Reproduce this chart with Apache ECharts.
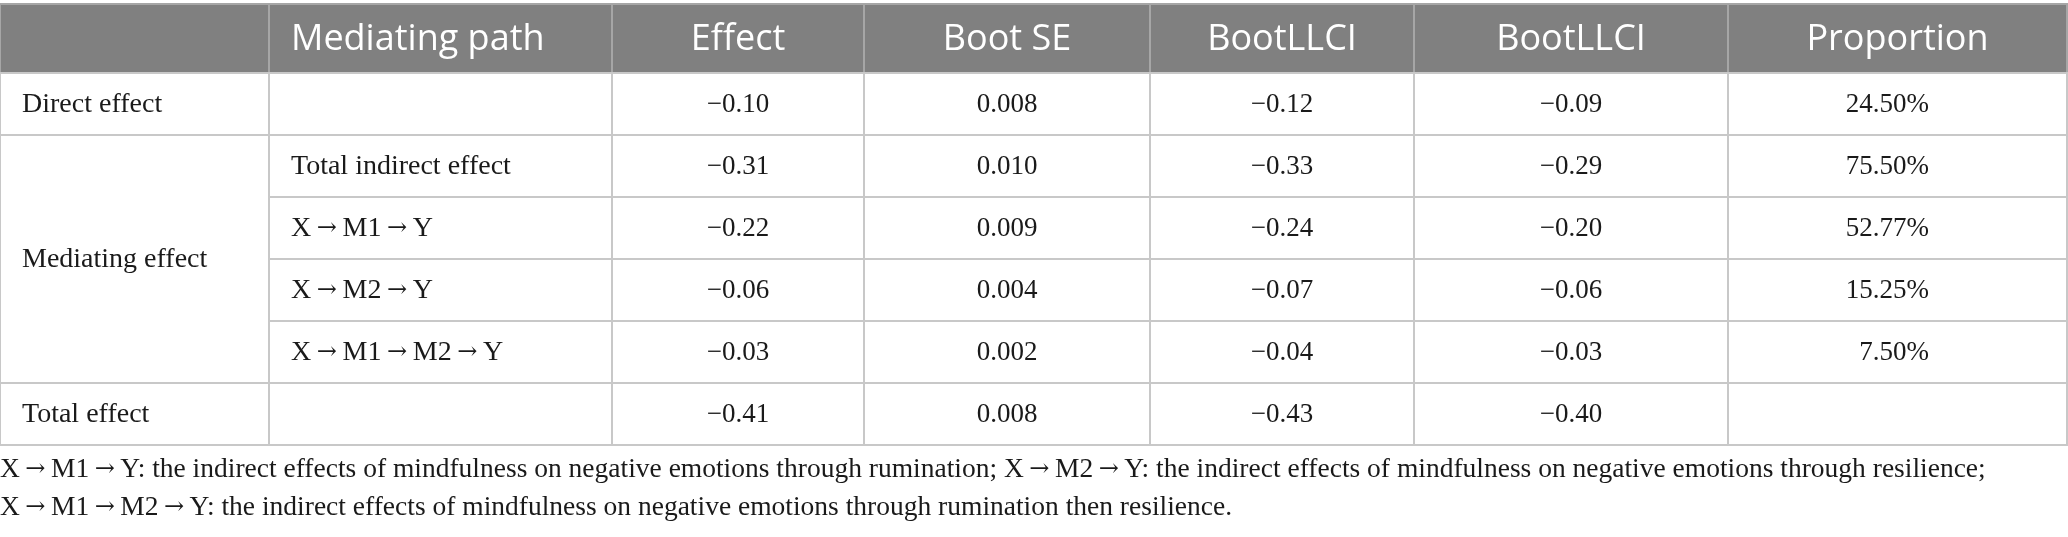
<!DOCTYPE html>
<html>
<head>
<meta charset="utf-8">
<title>Mediating effects</title>
<script src="https://cdn.jsdelivr.net/npm/echarts@6/dist/echarts.min.js"></script>
<style>
  html, body { margin: 0; padding: 0; background: #fff; }
  #main { width: 2068px; height: 537px; }
</style>
</head>
<body>
<div id="main"></div>
<script>
// table data
var headers = ['', 'Mediating path', 'Effect', 'Boot SE', 'BootLLCI', 'BootLLCI', 'Proportion'];
var groups = ['Direct effect', 'Mediating effect', 'Total effect'];
var groupSpan = [1, 4, 1];
var paths = ['', 'Total indirect effect', 'X → M1 → Y', 'X → M2 → Y', 'X → M1 → M2 → Y', ''];
var effect = [-0.10, -0.31, -0.22, -0.06, -0.03, -0.41];
var bootSE = [0.008, 0.010, 0.009, 0.004, 0.002, 0.008];
var bootLL = [-0.12, -0.33, -0.24, -0.07, -0.04, -0.43];
var bootUL = [-0.09, -0.29, -0.20, -0.06, -0.03, -0.40];
var proportion = [24.50, 75.50, 52.77, 15.25, 7.50, null];
var notes = [
  'X → M1 → Y: the indirect effects of mindfulness on negative emotions through rumination; X → M2 → Y: the indirect effects of mindfulness on negative emotions through resilience;',
  'X → M1 → M2 → Y: the indirect effects of mindfulness on negative emotions through rumination then resilience.'
];

// layout (pixel units on the axes)
var colEdges = [0, 269, 612, 864, 1150, 1414, 1728, 2067];
var headTop = 4, headBottom = 73, rowH = 62;
var pad = 22;
var propRight = 1929;
var textFont = '28px "Liberation Serif", serif';
var noteFont = '27.5px "Liberation Serif", serif';
var numFont = '27px "Liberation Serif", serif';
var headFont = '36px "Open Sans", sans-serif';
var arrowRich = { a: { fontFamily: 'DejaVu Serif', fontSize: 24, fill: '#1a1a1a' } };

function fmt(v, d) {
  if (v === null) return '';
  return v.toFixed(d).replace('-', '\u2212');
}
function arrows(s) {
  return s.replace(/ → /g, '\u2009{a|→}\u2009');
}

// build cell list: [x0, y0, x1, y1, text, kind, align]
var cells = [];
headers.forEach(function (h, c) {
  cells.push([colEdges[c], headTop, colEdges[c + 1], headBottom, h, 'head', c === 1 ? 'left' : 'center']);
});
var r0 = 0;
groups.forEach(function (g, gi) {
  cells.push([colEdges[0], headBottom + r0 * rowH, colEdges[1], headBottom + (r0 + groupSpan[gi]) * rowH, g, 'text', 'left']);
  r0 += groupSpan[gi];
});
paths.forEach(function (p, r) {
  var y0 = headBottom + r * rowH, y1 = y0 + rowH;
  var vals = [arrows(p), fmt(effect[r], 2), fmt(bootSE[r], 3), fmt(bootLL[r], 2), fmt(bootUL[r], 2),
    proportion[r] === null ? '' : proportion[r].toFixed(2) + '%'];
  vals.forEach(function (t, k) {
    var c = k + 1;
    cells.push([colEdges[c], y0, colEdges[c + 1], y1, t, c === 1 ? 'text' : 'num',
      c === 1 ? 'left' : (c === 6 ? 'right' : 'center')]);
  });
});

var myChart = echarts.init(document.getElementById('main'));

var option = {
  animation: false,
  grid: { left: 0, top: 0, width: 2068, height: 537 },
  xAxis: { type: 'value', min: 0, max: 2068, show: false },
  yAxis: { type: 'value', min: 0, max: 537, inverse: true, show: false },
  graphic: notes.map(function (n, i) {
    return {
      type: 'text', left: 0, top: 456 + i * 38,
      style: { text: arrows(n), fill: '#1a1a1a', font: noteFont, rich: arrowRich }
    };
  }),
  series: [{
    type: 'custom',
    coordinateSystem: 'cartesian2d',
    data: cells,
    renderItem: function (params, api) {
      var d = cells[params.dataIndex];
      var p0 = api.coord([d[0], d[1]]);
      var p1 = api.coord([d[2], d[3]]);
      var head = d[5] === 'head';
      var tx, align = d[6];
      if (align === 'left') tx = p0[0] + pad;
      else if (align === 'right') tx = api.coord([propRight, 0])[0];
      else tx = (p0[0] + p1[0]) / 2;
      return {
        type: 'group',
        children: [{
          type: 'rect',
          shape: { x: p0[0], y: p0[1], width: p1[0] - p0[0], height: p1[1] - p0[1] },
          style: { fill: head ? '#808080' : '#fff', stroke: head ? '#a6a6a6' : '#c8c8c8', lineWidth: 2 }
        }, {
          type: 'text',
          style: {
            x: tx, y: (p0[1] + p1[1]) / 2 + 1,
            text: d[4],
            fill: head ? '#fff' : '#1a1a1a',
            font: head ? headFont : (d[5] === 'num' ? numFont : textFont),
            rich: arrowRich,
            align: align, verticalAlign: 'middle'
          }
        }]
      };
    }
  }]
};

myChart.setOption(option);
</script>
</body>
</html>
